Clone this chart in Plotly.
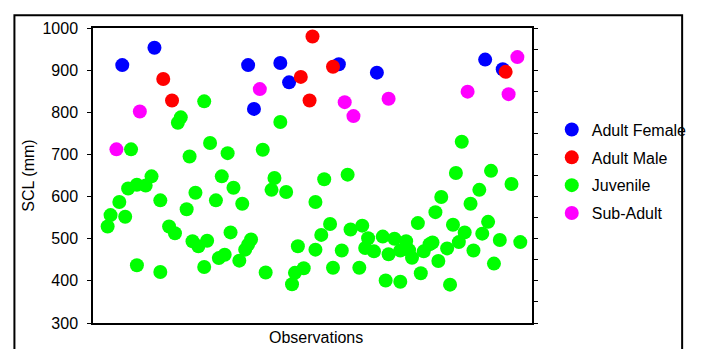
import plotly.graph_objects as go

# Observation numbers (x) and SCL values (mm) per class
female_obs = [10, 21, 53, 55, 64, 67, 84, 97, 134, 140]
female_scl = [912, 953, 912, 808, 917, 871, 914, 894, 925, 902]

male_obs = [24, 27, 71, 74, 75, 82, 141]
male_scl = [879, 828, 884, 828, 980, 908, 896]

juv_obs = [5, 6, 9, 11, 12, 13, 15, 15, 18, 20, 23, 23, 26, 28, 29, 30, 32, 33, 34, 35,
           36, 38, 38, 39, 40, 42, 43, 44, 45, 46, 47, 48, 50, 51, 52, 53, 54, 58, 59, 61,
           62, 64, 66, 68, 69, 70, 72, 76, 76, 78, 79, 81, 82, 85, 87, 88, 91, 92, 93, 94,
           96, 99, 100, 101, 103, 105, 105, 107, 108, 109, 111, 112, 113, 115, 116, 117, 118, 119, 121, 122,
           123, 124, 125, 126, 127, 129, 130, 132, 133, 135, 136, 137, 139, 143, 146]
juv_scl = [529, 556, 587, 552, 619, 712, 437, 628, 626, 648, 591, 421, 529, 513, 775, 788, 570, 695, 494, 609,
           482, 433, 826, 495, 727, 591, 454, 648, 462, 703, 515, 621, 448, 583, 474, 486, 498, 711, 420, 616,
           644, 777, 611, 392, 419, 482, 430, 474, 587, 509, 641, 535, 431, 472, 652, 522, 431, 531, 478, 501,
           470, 505, 401, 463, 500, 398, 472, 494, 473, 455, 537, 418, 470, 487, 491, 563, 447, 599, 477, 391,
           533, 656, 492, 730, 515, 583, 472, 616, 512, 540, 661, 441, 497, 630, 492]

sub_obs = [8, 16, 57, 86, 89, 101, 128, 142, 145]
sub_scl = [712, 802, 855, 824, 791, 832, 849, 843, 931]

y_ticks = [300, 400, 500, 600, 700, 800, 900, 1000]

FONT = "Liberation Sans, Arial, sans-serif"

fig = go.Figure()
series = [
    ("Adult Female", female_obs, female_scl, "#0000FF"),
    ("Adult Male", male_obs, male_scl, "#FF0000"),
    ("Juvenile", juv_obs, juv_scl, "#00FF00"),
    ("Sub-Adult", sub_obs, sub_scl, "#FF00FF"),
]
for name, xs, ys, col in series:
    fig.add_trace(go.Scatter(
        x=xs, y=ys, mode="markers", name=name, legendgroup=name,
        marker=dict(color=col, size=14, symbol="circle", line=dict(width=0)),
    ))

# invisible trace carrying the right-hand axis (ticks every 50, no labels)
fig.add_trace(go.Scatter(x=[None], y=[None], yaxis="y2", showlegend=False, hoverinfo="skip"))

fig.update_layout(
    width=696, height=341,
    margin=dict(l=85, r=164, t=16, b=26),
    paper_bgcolor="white", plot_bgcolor="white",
    font=dict(family=FONT, size=16, color="black"),
    showlegend=True,
    legend=dict(x=1.045, y=0.713, xanchor="left", yanchor="top",
                font=dict(family=FONT, size=16, color="black"),
                bgcolor="rgba(0,0,0,0)", tracegroupgap=4,
                itemwidth=30),
    xaxis=dict(range=[0, 150], showgrid=False, zeroline=False, showticklabels=False,
               ticks="", showline=True, linecolor="black", linewidth=1.5, mirror=True),
    yaxis=dict(range=[300, 1000], tickvals=y_ticks, showgrid=False, zeroline=False,
               ticks="outside", ticklen=4, tickcolor="black", showline=True,
               linecolor="black", linewidth=1.5, ticklabelstandoff=6,
               tickfont=dict(family=FONT, size=16, color="black")),
    yaxis2=dict(range=[300, 1000], overlaying="y", side="right", dtick=50, tick0=300,
                showticklabels=False, ticks="outside", ticklen=4, tickcolor="black",
                showline=True, linecolor="black", linewidth=1.5, showgrid=False, zeroline=False),
    annotations=[
        dict(text="SCL (mm)", x=-0.1477, y=0.5, xref="paper", yref="paper",
             textangle=-90, showarrow=False, xanchor="center", yanchor="middle",
             font=dict(family=FONT, size=16, color="black")),
        dict(text="Observations", x=0.508, y=-0.05, xref="paper", yref="paper",
             showarrow=False, xanchor="center", yanchor="middle",
             font=dict(family=FONT, size=16, color="black")),
    ],
    shapes=[
        dict(type="rect", xref="paper", yref="paper", x0=-0.179, x1=1.342, y0=-0.3, y1=1.0435,
             line=dict(color="black", width=2), fillcolor="rgba(0,0,0,0)", layer="above"),
    ],
)

fig.write_html("out.html")
